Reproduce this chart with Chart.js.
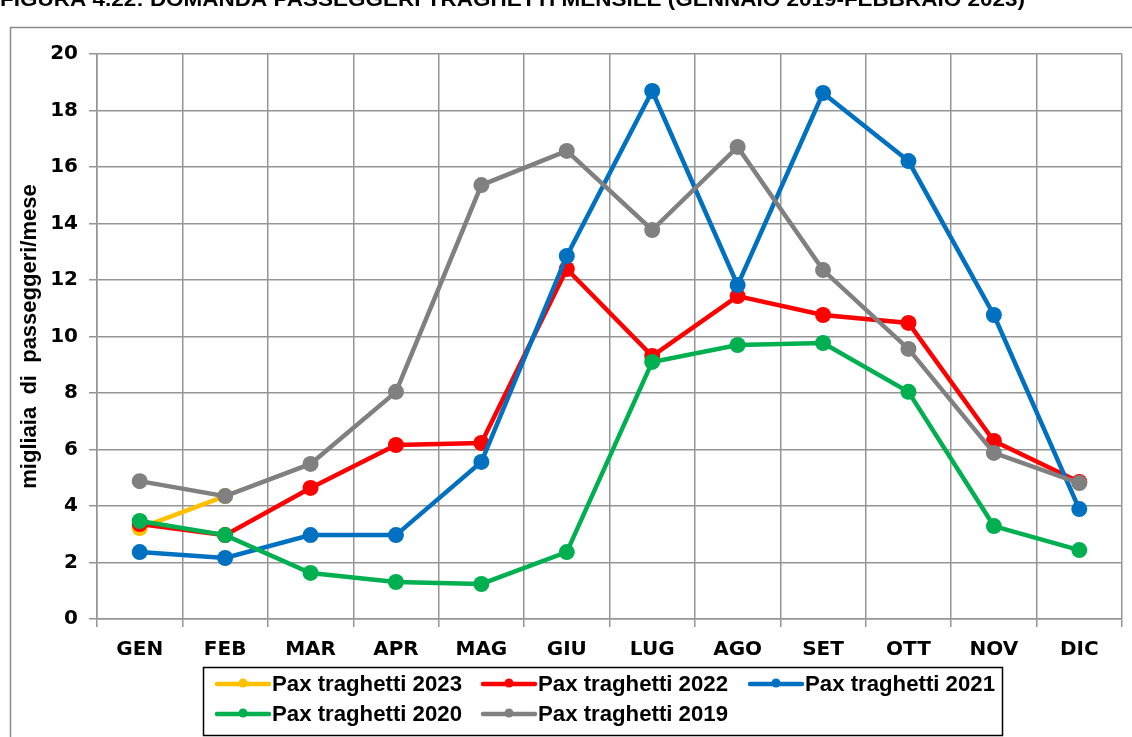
<!DOCTYPE html>
<html>
<head>
<meta charset="utf-8">
<script src="https://cdn.jsdelivr.net/npm/chart.js@4/dist/chart.umd.min.js"></script>
<style>
    body { margin: 0; background: #fff; }
    #wrap { width: 1132px; height: 737px; position: relative; }
</style>
</head>
<body>
<div id="wrap"><canvas id="paxChart" width="1132" height="737"></canvas></div>
<script>
const months = ['GEN', 'FEB', 'MAR', 'APR', 'MAG', 'GIU', 'LUG', 'AGO', 'SET', 'OTT', 'NOV', 'DIC'];

const pax2023 = [3.22, 4.35, null, null, null, null, null, null, null, null, null, null];
const pax2022 = [3.36, 2.97, 4.64, 6.16, 6.23, 12.39, 9.31, 11.43, 10.76, 10.48, 6.30, 4.85];
const pax2021 = [2.37, 2.16, 2.97, 2.97, 5.56, 12.85, 18.69, 11.82, 18.62, 16.21, 10.76, 3.89];
const pax2020 = [3.47, 2.97, 1.63, 1.31, 1.24, 2.37, 9.10, 9.70, 9.77, 8.04, 3.29, 2.44];
const pax2019 = [4.88, 4.35, 5.49, 8.04, 15.36, 16.57, 13.77, 16.71, 12.35, 9.56, 5.88, 4.81];

const seriesLabels = ['Pax traghetti 2023', 'Pax traghetti 2022', 'Pax traghetti 2021', 'Pax traghetti 2020', 'Pax traghetti 2019'];
const seriesColors = ['#FFC000', '#FF0000', '#0070C0', '#00B050', '#808080'];
const seriesData = [pax2023, pax2022, pax2021, pax2020, pax2019];

const titleText = 'FIGURA 4.22: DOMANDA PASSEGGERI TRAGHETTI MENSILE (GENNAIO 2019-FEBBRAIO 2023)';
const tickFont = { family: 'DejaVu Sans', size: 20, weight: 'bold' };

// draw text squeezed/stretched to a given width
function fitText(ctx, text, x, y, width) {
    const w = ctx.measureText(text).width;
    ctx.save();
    ctx.translate(x, y);
    ctx.scale(width / w, 1);
    ctx.fillText(text, 0, 0);
    ctx.restore();
}

// frame, cut title and the boxed legend
const decorPlugin = {
    id: 'decor',
    afterDraw(chart) {
        const ctx = chart.ctx;
        ctx.save();
        // outer frame
        ctx.strokeStyle = '#8c8c8c';
        ctx.lineWidth = 1.5;
        ctx.beginPath();
        ctx.moveTo(10.5, 737);
        ctx.lineTo(10.5, 27.5);
        ctx.lineTo(1132, 27.5);
        ctx.stroke();

        // title, partly off the top
        ctx.fillStyle = '#000';
        ctx.font = 'bold 20px "Liberation Sans"';
        ctx.textBaseline = 'alphabetic';
        fitText(ctx, titleText, 0, 6, 1025);

        // legend
        ctx.strokeStyle = '#000';
        ctx.lineWidth = 1.5;
        ctx.strokeRect(203.5, 667.5, 799, 68);
        const cols = [217, 483, 750];
        const rows = [684, 714];
        ctx.font = 'bold 22px "Liberation Sans"';
        ctx.textBaseline = 'middle';
        chart.data.datasets.forEach((ds, i) => {
            const x = cols[i % 3];
            const y = rows[Math.floor(i / 3)];
            ctx.strokeStyle = ds.borderColor;
            ctx.lineWidth = 4.5;
            ctx.lineCap = 'round';
            ctx.beginPath();
            ctx.moveTo(x, y);
            ctx.lineTo(x + 52, y);
            ctx.stroke();
            ctx.fillStyle = ds.borderColor;
            ctx.beginPath();
            ctx.arc(x + 26, y - 1, 4.5, 0, Math.PI * 2);
            ctx.fill();
            ctx.fillStyle = '#000';
            fitText(ctx, ds.label, x + 55, y + 1, 190);
        });
        ctx.restore();
    }
};

const datasets = seriesLabels.map((label, i) => ({
    label: label,
    data: seriesData[i],
    borderColor: seriesColors[i],
    backgroundColor: seriesColors[i],
    pointBackgroundColor: seriesColors[i],
    pointBorderColor: seriesColors[i],
    borderWidth: 4.5,
    pointRadius: 8,
    pointBorderWidth: 0,
    tension: 0,
    spanGaps: false,
    order: seriesLabels.length - 1 - i
}));

new Chart(document.getElementById('paxChart'), {
    type: 'line',
    data: { labels: months, datasets: datasets },
    plugins: [decorPlugin],
    options: {
        responsive: false,
        animation: false,
        events: [],
        layout: { padding: { top: 54, right: 10, bottom: 73, left: 0 } },
        plugins: { legend: { display: false }, tooltip: { enabled: false } },
        scales: {
            x: {
                offset: true,
                grid: { offset: true, color: '#959595', lineWidth: 1.5, tickLength: 8 },
                border: { color: '#959595', width: 1.5 },
                ticks: { color: '#000', font: tickFont, padding: 11, maxRotation: 0 },
                afterFit(scale) { scale.height = 45; }
            },
            y: {
                min: 0,
                max: 20,
                grid: { color: '#959595', lineWidth: 1.5, tickLength: 8 },
                border: { color: '#959595', width: 1.5 },
                ticks: { stepSize: 2, color: '#000', font: tickFont, padding: 11 },
                title: {
                    display: true,
                    text: 'migliaia  di  passeggeri/mese',
                    color: '#000',
                    font: { family: 'Liberation Sans', size: 22, weight: 'bold' },
                    padding: { top: 17, bottom: 0 }
                },
                afterFit(scale) { scale.width = 97; }
            }
        }
    }
});
</script>
</body>
</html>
